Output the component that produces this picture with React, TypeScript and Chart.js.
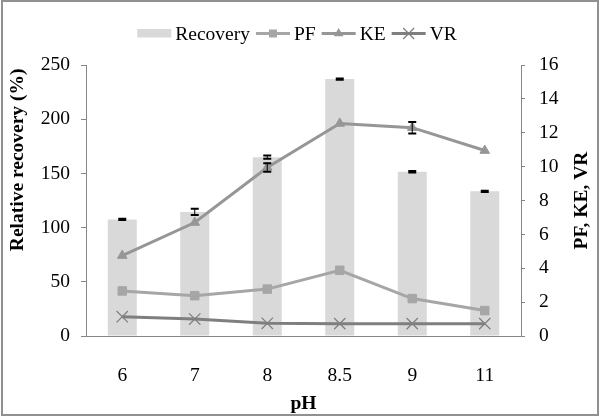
import React, { useEffect, useRef } from 'react';
import { Chart, registerables } from 'chart.js';

Chart.register(...registerables);

// ---- data ----
const categories = ['6', '7', '8', '8.5', '9', '11'];
const recovery = [107.5, 114.5, 165, 237, 151.5, 133.5];
const recoveryErr = [0.6, 2.8, 1.5, 0.6, 0.6, 0.6];
const pf = [2.66, 2.38, 2.77, 3.88, 2.21, 1.5];
const ke = [4.75, 6.7, 9.95, 12.55, 12.3, 10.95];
const keErr = [0, 0, 0.25, 0, 0.34, 0];
const vr = [1.14, 1.0, 0.75, 0.73, 0.73, 0.73];

const FONT = "'Liberation Serif', 'Times New Roman', serif";
const FS = 19.5;
const AXIS = '#868686';

const BAR_C = '#d9d9d9';
const PF_C = '#a6a6a6';
const KE_C = '#969696';
const VR_C = '#7f7f7f';

function drawMarker(ctx: CanvasRenderingContext2D, style: string, x: number, y: number, color: string) {
  ctx.save();
  ctx.fillStyle = color;
  ctx.strokeStyle = color;
  if (style === 'rect') {
    ctx.fillRect(x - 4, y - 4, 8, 8);
  } else if (style === 'triangle') {
    ctx.beginPath();
    ctx.moveTo(x, y - 5.5);
    ctx.lineTo(x + 4.8, y + 2.8);
    ctx.lineTo(x - 4.8, y + 2.8);
    ctx.closePath();
    ctx.fill();
  } else if (style === 'crossRot') {
    ctx.lineWidth = 1.2;
    ctx.beginPath();
    ctx.moveTo(x - 5.5, y - 5.5);
    ctx.lineTo(x + 5.5, y + 5.5);
    ctx.moveTo(x - 5.5, y + 5.5);
    ctx.lineTo(x + 5.5, y - 5.5);
    ctx.stroke();
  }
  ctx.restore();
}

const bgFramePlugin = {
  id: 'bgFrame',
  beforeDraw(chart: any) {
    const ctx = chart.ctx;
    ctx.save();
    ctx.fillStyle = '#ffffff';
    ctx.fillRect(0, 0, chart.width, chart.height);
    ctx.restore();
  },
  afterDraw(chart: any) {
    const ctx = chart.ctx;
    ctx.save();
    ctx.strokeStyle = '#909090';
    ctx.lineWidth = 2;
    ctx.strokeRect(2, 1, chart.width - 4, chart.height - 2);
    ctx.restore();
  },
};

const errorBarPlugin = {
  id: 'errorBars',
  afterDatasetsDraw(chart: any) {
    const ctx = chart.ctx;
    const xs = chart.scales.x;
    const draw = (values: number[], errs: number[], scale: any) => {
      values.forEach((v, i) => {
        const e = errs[i];
        if (!e) return;
        const x = xs.getPixelForValue(i);
        const yt = scale.getPixelForValue(v + e);
        const yb = scale.getPixelForValue(v - e);
        ctx.save();
        ctx.strokeStyle = '#000';
        ctx.lineWidth = 1;
        ctx.beginPath();
        ctx.moveTo(x, yt);
        ctx.lineTo(x, yb);
        ctx.stroke();
        ctx.lineWidth = 2;
        ctx.beginPath();
        ctx.moveTo(x - 4, yt);
        ctx.lineTo(x + 4, yt);
        ctx.moveTo(x - 4, yb);
        ctx.lineTo(x + 4, yb);
        ctx.stroke();
        ctx.restore();
      });
    };
    draw(recovery, recoveryErr, chart.scales.y);
    draw(ke, keErr, chart.scales.y1);
  },
};

const titlesPlugin = {
  id: 'axisTitles',
  afterDraw(chart: any) {
    const ctx = chart.ctx;
    const a = chart.chartArea;
    ctx.save();
    ctx.fillStyle = '#000';
    ctx.font = `bold ${FS}px ${FONT}`;
    ctx.textAlign = 'center';
    ctx.textBaseline = 'middle';
    ctx.save();
    ctx.translate(18, a.top + (a.bottom - a.top) * 0.35);
    ctx.rotate(-Math.PI / 2);
    ctx.fillText('Relative recovery (%)', 0, 0);
    ctx.restore();
    ctx.save();
    ctx.translate(chart.width - 18, (a.top + a.bottom) / 2);
    ctx.rotate(-Math.PI / 2);
    ctx.fillText('PF, KE, VR', 0, 0);
    ctx.restore();
    ctx.restore();
  },
};

const legendPlugin = {
  id: 'customLegend',
  afterDraw(chart: any) {
    const ctx = chart.ctx;
    const ds = chart.data.datasets;
    const sample = 34;
    const gapText = 4;
    const gapItem = 6;
    ctx.save();
    ctx.font = `${FS}px ${FONT}`;
    ctx.textBaseline = 'middle';
    ctx.textAlign = 'left';
    const widths = ds.map((d: any) => sample + gapText + ctx.measureText(d.label).width);
    const total = widths.reduce((s: number, w: number) => s + w, 0) + gapItem * (ds.length - 1);
    let x = 297 - total / 2;
    const y = 33.5;
    ds.forEach((d: any, i: number) => {
      if (d.type === 'bar') {
        ctx.fillStyle = d.backgroundColor;
        ctx.fillRect(x, y - 4.5, sample, 8.5);
      } else {
        ctx.strokeStyle = d.borderColor;
        ctx.lineWidth = 3;
        ctx.beginPath();
        ctx.moveTo(x, y);
        ctx.lineTo(x + sample, y);
        ctx.stroke();
        drawMarker(ctx, d.pointStyle, x + sample / 2, y, d.borderColor);
      }
      ctx.fillStyle = '#000';
      ctx.fillText(d.label, x + sample + gapText, y + 1);
      x += widths[i] + gapItem;
    });
    ctx.restore();
  },
};

export default function App() {
  const ref = useRef<HTMLCanvasElement | null>(null);

  useEffect(() => {
    if (!ref.current) return;
    const tickFont = { family: FONT, size: FS };
    const chart = new Chart(ref.current, {
      type: 'bar',
      data: {
        labels: categories,
        datasets: [
          {
            type: 'bar',
            label: 'Recovery',
            data: recovery,
            backgroundColor: BAR_C,
            yAxisID: 'y',
            order: 10,
            barPercentage: 0.4,
            categoryPercentage: 1,
          },
          {
            type: 'line',
            label: 'PF',
            data: pf,
            yAxisID: 'y1',
            borderColor: PF_C,
            backgroundColor: PF_C,
            borderWidth: 3,
            pointStyle: 'rect',
            pointRadius: 6,
            pointBackgroundColor: PF_C,
            pointBorderColor: PF_C,
            pointBorderWidth: 1,
            tension: 0,
            order: 3,
          },
          {
            type: 'line',
            label: 'KE',
            data: ke,
            yAxisID: 'y1',
            borderColor: KE_C,
            backgroundColor: KE_C,
            borderWidth: 3,
            pointStyle: 'triangle',
            pointRadius: 5.5,
            pointBackgroundColor: KE_C,
            pointBorderColor: KE_C,
            pointBorderWidth: 1,
            tension: 0,
            order: 2,
          },
          {
            type: 'line',
            label: 'VR',
            data: vr,
            yAxisID: 'y1',
            borderColor: VR_C,
            backgroundColor: VR_C,
            borderWidth: 3,
            pointStyle: 'crossRot',
            pointRadius: 8,
            pointBorderColor: VR_C,
            pointBorderWidth: 1.2,
            tension: 0,
            order: 1,
          },
        ] as any,
      },
      options: {
        responsive: false,
        animation: false,
        devicePixelRatio: 1,
        layout: { padding: { top: 65, left: 0, right: 0, bottom: 0 } },
        plugins: {
          legend: { display: false },
          tooltip: { enabled: false },
        },
        scales: {
          x: {
            type: 'category',
            offset: true,
            grid: { display: false },
            border: { display: true, color: AXIS, width: 1 },
            ticks: { font: tickFont, color: '#000', padding: 20, maxRotation: 0, autoSkip: false },
            title: {
              display: true,
              text: 'pH',
              color: '#000',
              font: { family: FONT, size: FS, weight: 'bold' },
              padding: { top: 0, bottom: 0 },
            },
            afterFit: (s: any) => {
              s.height = 80;
            },
          },
          y: {
            position: 'left',
            min: 0,
            max: 250,
            ticks: { stepSize: 50, font: tickFont, color: '#000', padding: 11 },
            grid: { display: true, drawOnChartArea: false, drawTicks: true, tickLength: 5, color: AXIS },
            border: { display: true, color: AXIS, width: 1 },
            afterFit: (s: any) => {
              s.width = 86;
            },
          },
          y1: {
            position: 'right',
            min: 0,
            max: 16,
            ticks: { stepSize: 2, font: tickFont, color: '#000', padding: 14 },
            grid: { display: true, drawOnChartArea: false, drawTicks: true, tickLength: 4, color: AXIS },
            border: { display: true, color: AXIS, width: 1 },
            afterFit: (s: any) => {
              s.width = 79;
            },
          },
        },
      } as any,
      plugins: [bgFramePlugin, errorBarPlugin, titlesPlugin, legendPlugin],
    });
    return () => chart.destroy();
  }, []);

  return (
    <div style={{ position: 'fixed', left: 0, top: 0, width: 600, height: 416, background: '#fff' }}>
      <canvas ref={ref} width={600} height={416} style={{ display: 'block', width: 600, height: 416 }} />
    </div>
  );
}
